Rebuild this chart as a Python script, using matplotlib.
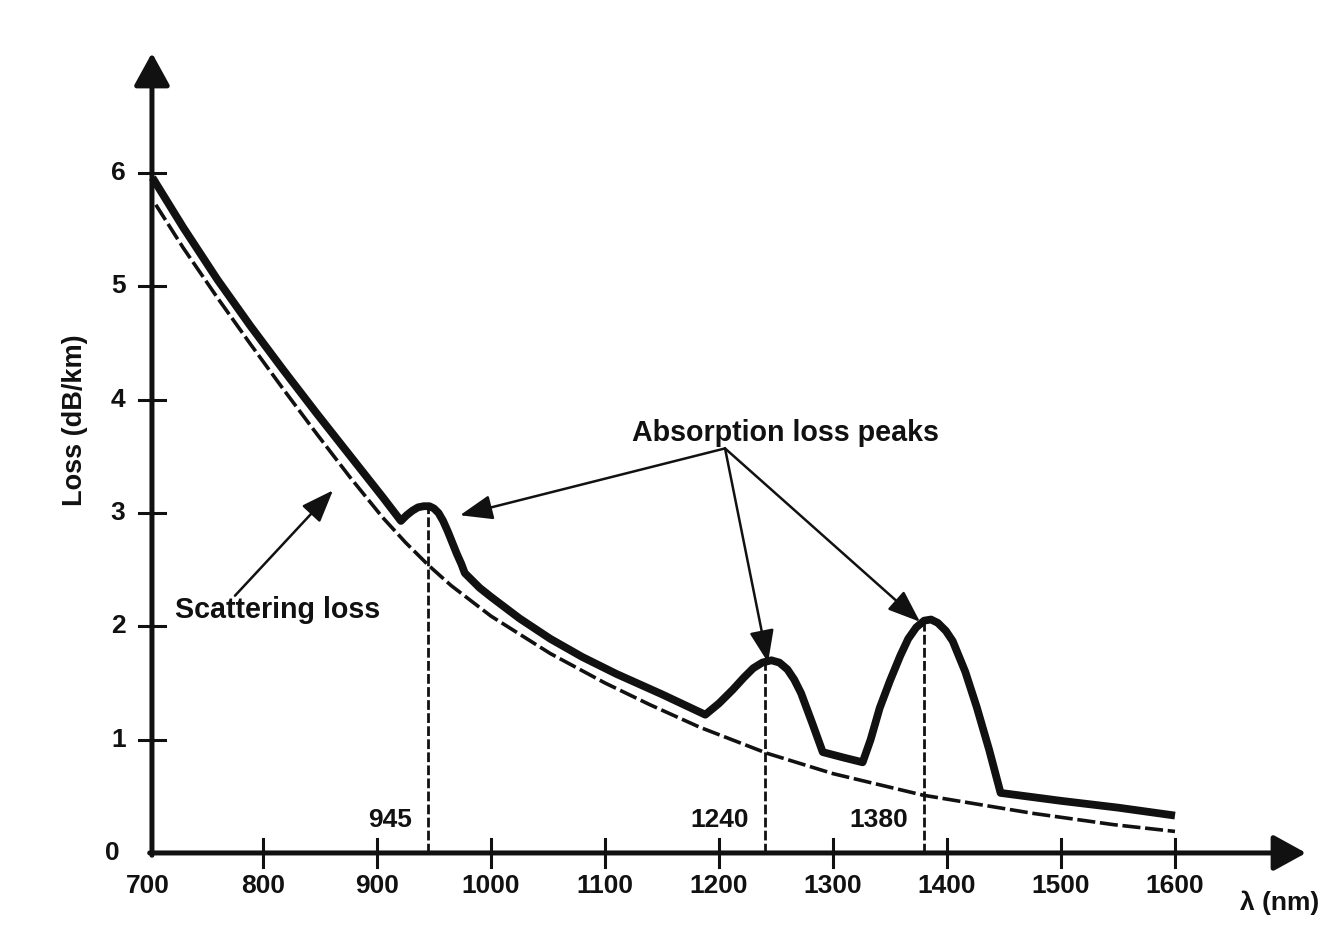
import matplotlib.pyplot as plt
import numpy as np

plt.rcParams['font.family'] = ['Liberation Sans', 'DejaVu Sans']

# total loss curve (solid)
wl_total = [703, 730, 760, 789, 818, 847, 876, 905, 921, 926, 931, 936, 941, 946, 950, 954,
            958, 962, 966, 970, 974, 977, 990, 1000, 1025, 1052, 1080, 1110, 1150, 1188,
            1200, 1212, 1222, 1230, 1238, 1246, 1253, 1260, 1266, 1272, 1282, 1291, 1310,
            1326, 1333, 1341, 1350, 1359, 1366, 1373, 1380, 1386, 1392, 1399, 1405, 1416,
            1426, 1437, 1447, 1500, 1550, 1600]
loss_total = [5.96, 5.52, 5.06, 4.65, 4.26, 3.88, 3.51, 3.14, 2.93, 2.98, 3.02, 3.05, 3.06,
              3.06, 3.04, 3.00, 2.93, 2.84, 2.74, 2.64, 2.55, 2.47, 2.34, 2.26, 2.07, 1.89,
              1.73, 1.58, 1.40, 1.22, 1.32, 1.44, 1.55, 1.63, 1.68, 1.70, 1.68, 1.62, 1.53,
              1.41, 1.14, 0.89, 0.84, 0.80, 1.00, 1.28, 1.52, 1.74, 1.89, 1.99, 2.05, 2.06,
              2.03, 1.96, 1.87, 1.60, 1.29, 0.91, 0.53, 0.46, 0.40, 0.33]

# scattering loss curve (dashed)
wl_scat = [706, 730, 760, 789, 818, 847, 876, 905, 925, 945, 965, 1000, 1052, 1100, 1139,
           1183, 1242, 1300, 1379, 1475, 1546, 1600]
loss_scat = [5.72, 5.34, 4.90, 4.49, 4.09, 3.70, 3.32, 2.96, 2.74, 2.54, 2.36, 2.09, 1.76,
             1.50, 1.31, 1.11, 0.88, 0.70, 0.51, 0.35, 0.25, 0.19]

peaks = [945, 1240, 1380]
x_ticks = [700, 800, 900, 1000, 1100, 1200, 1300, 1400, 1500, 1600]
y_ticks = [0, 1, 2, 3, 4, 5, 6]

ink = '#111111'
fig = plt.figure(figsize=(13.29, 9.52), dpi=100)
ax = fig.add_axes([0, 0, 1, 1])
ax.set_xlim(569.3, 1735.1)
ax.set_ylim(-0.874, 7.527)
ax.axis('off')

x0 = 702.6  # where the y axis stands

# axes with arrow heads
head = '-|>,head_length=1.0,head_width=0.55'
ax.annotate('', xy=(x0, 7.06), xytext=(x0, -0.02),
            arrowprops=dict(arrowstyle=head, lw=3.6, color=ink, mutation_scale=20,
                            shrinkA=0, shrinkB=0))
ax.annotate('', xy=(1715, 0), xytext=(x0 - 2, 0),
            arrowprops=dict(arrowstyle=head, lw=3.6, color=ink, mutation_scale=20,
                            shrinkA=0, shrinkB=0))

# ticks crossing the axes
for t in x_ticks[1:]:
    ax.plot([t, t], [-0.12, 0.12], color=ink, lw=2.2)
    ax.text(t, -0.29, str(t), ha='center', va='center', fontsize=19, fontweight='bold', color=ink)
ax.text(x_ticks[0] - 1, -0.29, str(x_ticks[0]), ha='center', va='center',
        fontsize=19, fontweight='bold', color=ink)
for t in y_ticks[1:]:
    ax.plot([x0 - 11.5, x0 + 11.5], [t, t], color=ink, lw=2.2)
    ax.text(673, t, str(t), ha='center', va='center', fontsize=19, fontweight='bold', color=ink)
ax.text(668, 0, '0', ha='center', va='center', fontsize=19, fontweight='bold', color=ink)

ax.text(635, 3.82, 'Loss (dB/km)', rotation=90, ha='center', va='center',
        fontsize=19.5, fontweight='bold', color=ink)
ax.text(1692, -0.44, 'λ (nm)', ha='center', va='center', fontsize=19, fontweight='bold', color=ink)

# curves
ax.plot(wl_scat, loss_scat, color=ink, lw=2.6, dashes=(5, 1.3))
ax.plot(wl_total, loss_total, color=ink, lw=5.6, solid_joinstyle='round', solid_capstyle='butt')

# vertical dashed markers at the absorption peaks
for p in peaks:
    top = np.interp(p, wl_total, loss_total)
    ax.plot([p, p], [0, top], color=ink, lw=2.0, dashes=(3.5, 1.2))
    ax.text(p - 14, 0.29, str(p), ha='right', va='center', fontsize=19,
            fontweight='bold', color=ink)

# annotations
arrow_kw = dict(arrowstyle='-|>,head_length=1.0,head_width=0.38', lw=1.8, color=ink,
                mutation_scale=20, shrinkA=0, shrinkB=0)
ax.text(1258, 3.71, 'Absorption loss peaks', ha='center', va='center',
        fontsize=20.6, fontweight='bold', color=ink)
for tip in [(972.8, 2.98), (1243, 1.68), (1376.3, 2.04)]:
    ax.annotate('', xy=tip, xytext=(1205.3, 3.57), arrowprops=arrow_kw)

ax.text(813, 2.14, 'Scattering loss', ha='center', va='center',
        fontsize=20.6, fontweight='bold', color=ink)
ax.annotate('', xy=(861.4, 3.20), xytext=(775.4, 2.27), arrowprops=arrow_kw)

fig.savefig('out.png', dpi=100, facecolor='white')
